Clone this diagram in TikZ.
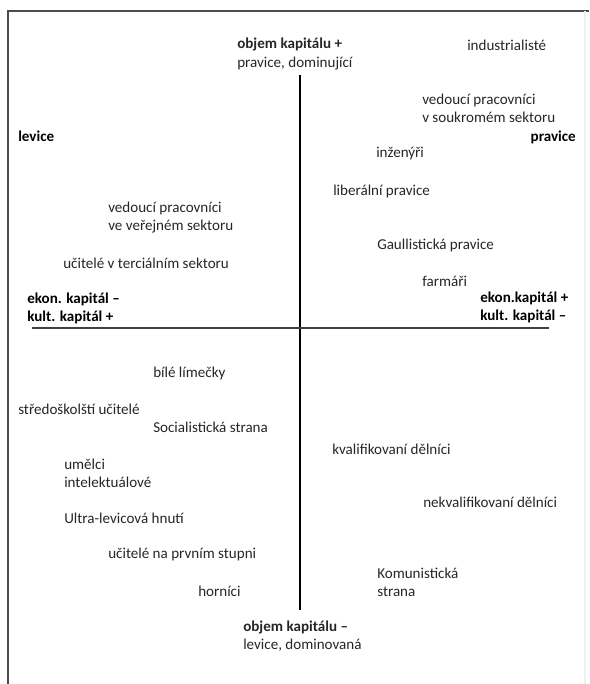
\documentclass[tikz,border=0pt]{standalone}
\usepackage{fontspec}
\setmainfont{Carlito}
\usepackage{tikz}
\usetikzlibrary{positioning, calc}

\begin{document}
\begin{tikzpicture}[
    x=0.75pt, y=-0.75pt,
    item/.style={anchor=west, inner sep=0pt, align=left, text=black!85, font=\fontsize{11.3}{13.6}\selectfont},
    pole/.style={item, text=black, font=\fontsize{11.3}{13.6}\selectfont\bfseries},
    axis/.style={line width=1pt, black},
    frame/.style={line width=1.2pt, black!70}
]
\useasboundingbox (0,0) rectangle (589,684);

% Scan frame
\draw[frame] (8,684) -- (8,11) -- (589,11);
\draw[black!6, line width=0.8pt] (585,11) -- (585,684);

% Axis poles
\node[item] (captop) at (237,54) {\textbf{objem kapitálu +}\\pravice, dominující};
\node[item] (capbot) at (243,636.5) {\textbf{objem kapitálu –}\\levice, dominovaná};
\node[pole] (left) at (18,136) {levice};
\node[pole, anchor=east] (right) at (576,137) {pravice};
\node[pole] (kultplus) at (27,308.5) {ekon. kapitál –\\kult. kapitál +};
\node[pole] (ekonplus) at (480,307.5) {ekon.kapitál +\\kult. kapitál –};

% Axes
\coordinate (axtop) at (300,75);
\coordinate (axbot) at (300,610);
\coordinate (axleft) at (32,328);
\coordinate (axright) at (549,328);
\draw[axis] (axtop) -- (axbot);
\draw[axis, line width=0.9pt, black!75] (axleft) -- (axright);

% Upper right
\node[item] (industr) at (467,45) {industrialisté};
\node[item] (vedsouk) at (422,108.5) {vedoucí pracovníci\\v soukromém sektoru};
\node[item] (inzen) at (376,154) {inženýři};
\node[item] (libprav) at (333,191) {liberální pravice};
\node[item] (gaull) at (377,245) {Gaullistická pravice};
\node[item] (farm) at (422,281) {farmáři};

% Upper left
\node[item] (vedver) at (108,217.5) {vedoucí pracovníci\\ve veřejném sektoru};
\node[item] (ucter) at (63,263) {učitelé v terciálním sektoru};

% Lower left
\node[item] (limec) at (153,373) {bílé límečky};
\node[item] (stred) at (18,409) {středoškolští učitelé};
\node[item] (social) at (153,427) {Socialistická strana};
\node[item] (umelci) at (64,473) {umělci\\intelektuálové};
\node[item] (ultra) at (64,518) {Ultra-levicová hnutí};
\node[item] (ucprv) at (108,554) {učitelé na prvním stupni};
\node[item] (hornici) at (198,591) {horníci};

% Lower right
\node[item] (kvalif) at (332,449) {kvalifikovaní dělníci};
\node[item] (nekval) at (423,502) {nekvalifikovaní dělníci};
\node[item] (komun) at (377,582.5) {Komunistická\\strana};

\end{tikzpicture}
\end{document}
